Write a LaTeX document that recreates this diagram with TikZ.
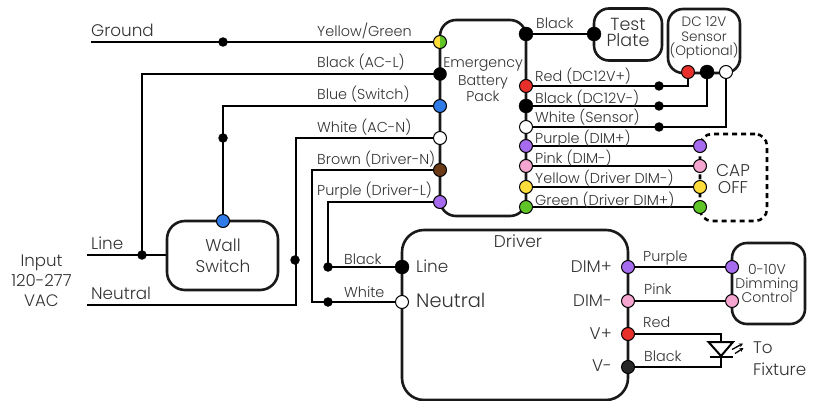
\documentclass[tikz,border=0pt]{standalone}
\usepackage{fontspec}
\usetikzlibrary{arrows.meta,backgrounds}
\setmainfont{Poppins}[UprightFont=* Light]
\definecolor{ink}{HTML}{333333}
\definecolor{cred}{HTML}{E8302A}
\definecolor{cblue}{HTML}{2F7BE8}
\definecolor{cpurple}{HTML}{A66BEE}
\definecolor{cpink}{HTML}{F4A6D0}
\definecolor{cyellow}{HTML}{FFDE3B}
\definecolor{cgreen}{HTML}{5FC526}
\definecolor{cbrown}{HTML}{6B3A17}
\tikzset{
  wire/.style={line width=2.4pt,black,line join=miter},
  boxn/.style={draw=black!90,line width=2.6pt,inner sep=0pt},
  term/.style={circle,draw=black,line width=1pt,minimum size=13pt,inner sep=0pt},
  bigterm/.style={circle,fill=black,draw=black,minimum size=14pt,inner sep=0pt},
  junc/.style={circle,fill=black,minimum size=9.5pt,inner sep=0pt},
  lab/.style={anchor=base west,inner sep=0pt,text=ink,font=\fontsize{14.4}{16}\selectfont},
  labb/.style={lab,font=\fontsize{16.8}{18}\selectfont},
  labe/.style={labb,anchor=base east},
  labm/.style={anchor=base,inner sep=0pt,text=ink,align=center,font=\fontsize{#1}{#1}\selectfont},
  ledray/.style={line width=1.3pt,-{Stealth[length=4pt,width=4pt]}},
}
\begin{document}
\begin{tikzpicture}[x=1pt,y=-1pt]
\useasboundingbox (0,0) rectangle (813,401);
% boxes
\node[boxn,rounded corners=16pt,minimum width=86pt,minimum height=196pt] (pack) at (483,118) {};
\node[boxn,rounded corners=18pt,minimum width=111pt,minimum height=69pt] (wall) at (222.5,255.5) {};
\node[boxn,rounded corners=22pt,minimum width=226pt,minimum height=170pt] (driver) at (515,315) {};
\node[boxn,rounded corners=15pt,minimum width=68pt,minimum height=52pt] (plate) at (628,34.5) {};
\node[boxn,rounded corners=15pt,minimum width=72pt,minimum height=64pt] (sensor) at (704,41) {};
\node[boxn,rounded corners=15pt,minimum width=73pt,minimum height=81pt] (dimc) at (768.5,283.5) {};
\node[draw=black,line width=2.6pt,dash pattern=on 5pt off 4pt,rounded corners=12pt,minimum width=67pt,minimum height=87pt,inner sep=0pt] (cap) at (733.5,177.5) {};
% free ends and corners
\coordinate (gndL) at (91,42);
\coordinate (lineL) at (87,255);
\coordinate (neuL) at (87,305);
\coordinate (whiteC) at (296,305);
\coordinate (brownC) at (312,302);
% pack left terminals
\node[term,path picture={\fill[cyellow] (path picture bounding box.north west) rectangle (path picture bounding box.south); \fill[cgreen] (path picture bounding box.north) rectangle (path picture bounding box.south east);}] (pYG) at (440,42) {};
\node[bigterm,minimum size=13pt] (pBk) at (440,74) {};
\node[term,fill=cblue] (pBl) at (440,106) {};
\node[term,fill=white] (pWh) at (440,138) {};
\node[term,fill=cbrown] (pBr) at (440,170) {};
\node[term,fill=cpurple] (pPu) at (440,202) {};
% pack right terminals
\node[bigterm] (rBk) at (526,34) {};
\node[term,fill=cred] (rRd) at (526,86) {};
\node[bigterm] (rB2) at (526,106) {};
\node[term,fill=white] (rWh) at (526,127) {};
\node[term,fill=cpurple] (rPu) at (526,146) {};
\node[term,fill=cpink] (rPk) at (526,166) {};
\node[term,fill=cyellow] (rYe) at (526,187) {};
\node[term,fill=cgreen] (rGr) at (526,207) {};
% other terminals
\node[bigterm] (tp) at (594,34) {};
\node[term,fill=cred] (sR) at (688,72) {};
\node[bigterm] (sB) at (707,72) {};
\node[term,fill=white] (sW) at (726,72) {};
\node[term,fill=cpurple] (cPu) at (700,146) {};
\node[term,fill=cpink] (cPk) at (700,166) {};
\node[term,fill=cyellow] (cYe) at (700,187) {};
\node[term,fill=cgreen] (cGr) at (700,207) {};
\node[term,fill=cblue] (wT) at (223,221) {};
\node[bigterm] (dL) at (402,267) {};
\node[term,fill=white] (dN) at (402,302) {};
\node[term,fill=cpurple] (dDp) at (628,267) {};
\node[term,fill=cpink] (dDm) at (628,301) {};
\node[term,fill=cred] (dVp) at (628,334) {};
\node[term,fill=black!85] (dVm) at (628,367) {};
\node[term,fill=cpurple] (mDp) at (732,267) {};
\node[term,fill=cpink] (mDm) at (732,301) {};
% junctions
\node[junc] (j1) at (223,42) {};
\node[junc] (j2) at (223,138) {};
\node[junc] (j3) at (142,255) {};
\node[junc] (j4) at (295,260) {};
\node[junc] (j5) at (328,267) {};
\node[junc] (j6) at (328,302) {};
\node[junc] (j7) at (659,86) {};
\node[junc] (j8) at (659,106) {};
\node[junc] (j9) at (659,127) {};
% LED
\coordinate (ledT) at (721,342);
\coordinate (ledB) at (721,356);
% wires
\begin{pgfonlayer}{background}
\draw[wire] (gndL) -- (pYG.center);
\draw[wire] (pBk.center) -- (j3 |- pBk) -- (j3.center);
\draw[wire] (lineL) -- (wall.west |- j3);
\draw[wire] (pBl.center) -- (wT |- pBl) -- (wT.center);
\draw[wire] (pWh.center) -- (whiteC |- pWh) -- (whiteC) -- (neuL);
\draw[wire] (pBr.center) -- (brownC |- pBr) -- (brownC) -- (dN.center);
\draw[wire] (pPu.center) -- (j5 |- pPu) -- (j5.center) -- (dL.center);
\draw[wire] (rBk.center) -- (tp.center);
\draw[wire] (rRd.center) -- (sR |- rRd) -- (sR.center);
\draw[wire] (rB2.center) -- (sB |- rB2) -- (sB.center);
\draw[wire] (rWh.center) -- (sW |- rWh) -- (sW.center);
\draw[wire] (rPu.center) -- (cPu.center);
\draw[wire] (rPk.center) -- (cPk.center);
\draw[wire] (rYe.center) -- (cYe.center);
\draw[wire] (rGr.center) -- (cGr.center);
\draw[wire] (dDp.center) -- (mDp.center);
\draw[wire] (dDm.center) -- (mDm.center);
\draw[wire] (dVp.center) -- (dVp -| ledT) -- (ledT);
\draw[wire] (dVm.center) -- (dVm -| ledB) -- (ledB);
\end{pgfonlayer}
% LED symbol
\draw[line width=2pt,fill=white,line join=miter] (708.5,342) -- (733,342) -- (721,356) -- cycle;
\draw[line width=2pt] (709.5,356.5) -- (733,356.5);
\draw[ledray] (732,349.5) -- (743,343.5);
\draw[ledray] (735,353.5) -- (743.5,348);
% labels
\node[labb] (tGround) at (91,37) {Ground};
\node[lab] (t1) at (317,37) {Yellow/Green};
\node[lab] (t2) at (317,67.5) {Black (AC-L)};
\node[lab] (t3) at (317,100) {Blue (Switch)};
\node[lab] (t4) at (317,132) {White (AC-N)};
\node[lab] (t5) at (317,164) {Brown (Driver-N)};
\node[lab] (t6) at (317,195) {Purple (Driver-L)};
\node[lab] (r1) at (536,29) {Black};
\node[lab] (r2) at (535,82) {Red (DC12V+)};
\node[lab] (r3) at (535,103) {Black (DC12V-)};
\node[lab] (r4) at (535,122) {White (Sensor)};
\node[lab] (r5) at (535,143) {Purple (DIM+)};
\node[lab] (r6) at (535,163) {Pink (DIM-)};
\node[lab] (r7) at (535,183) {Yellow (Driver DIM-)};
\node[lab] (r8) at (535,205) {Green (Driver DIM+)};
\node[labm=14.2] (p1) at (483,67.5) {Emergency};
\node[labm=14.2] (p2) at (483,86) {Battery};
\node[labm=14.2] (p3) at (483,101.5) {Pack};
\node[labm=17.5] (tp1) at (628,31) {Test};
\node[labm=17.5] (tp2) at (628,47) {Plate};
\node[labm=13.6] (s1) at (704,27) {DC 12V};
\node[labm=13.6] (s2) at (704,42) {Sensor};
\node[labm=13.6] (s3) at (704,56) {(Optional)};
\node[labm=17] (c1) at (733,176) {CAP};
\node[labm=17] (c2) at (733,193) {OFF};
\node[labm=17] (w1) at (223,251) {Wall};
\node[labm=17] (w2) at (223,272) {Switch};
\node[labb] (l1) at (91,249) {Line};
\node[labb] (l2) at (91,299) {Neutral};
\node[labm=16.6] (i1) at (41.5,266) {Input};
\node[labm=16.6] (i2) at (41.5,286) {120-277};
\node[labm=16.6] (i3) at (41.5,306.5) {VAC};
\node[lab] (b1) at (344,264) {Black};
\node[lab] (b2) at (344,297) {White};
\node[labm=17] (dr) at (518,247) {Driver};
\node[labb] (d1) at (416,272) {Line};
\node[lab,font=\fontsize{19.4}{21}\selectfont] (d2) at (416,307) {Neutral};
\node[labe] (e1) at (612,272.5) {DIM+};
\node[labe] (e2) at (612,306.5) {DIM-};
\node[labe] (e3) at (612,339) {V+};
\node[labe] (e4) at (612,371) {V-};
\node[lab] (f1) at (643,261) {Purple};
\node[lab] (f2) at (644,294) {Pink};
\node[lab] (f3) at (643,327) {Red};
\node[lab] (f4) at (644,361) {Black};
\node[labm=14] (m1) at (767,274) {0-10V};
\node[labm=14] (m2) at (767,288) {Dimming};
\node[labm=14] (m3) at (767,302) {Control};
\node[labb] (x1) at (753,353) {To};
\node[labb] (x2) at (753,375) {Fixture};
\end{tikzpicture}
\end{document}
